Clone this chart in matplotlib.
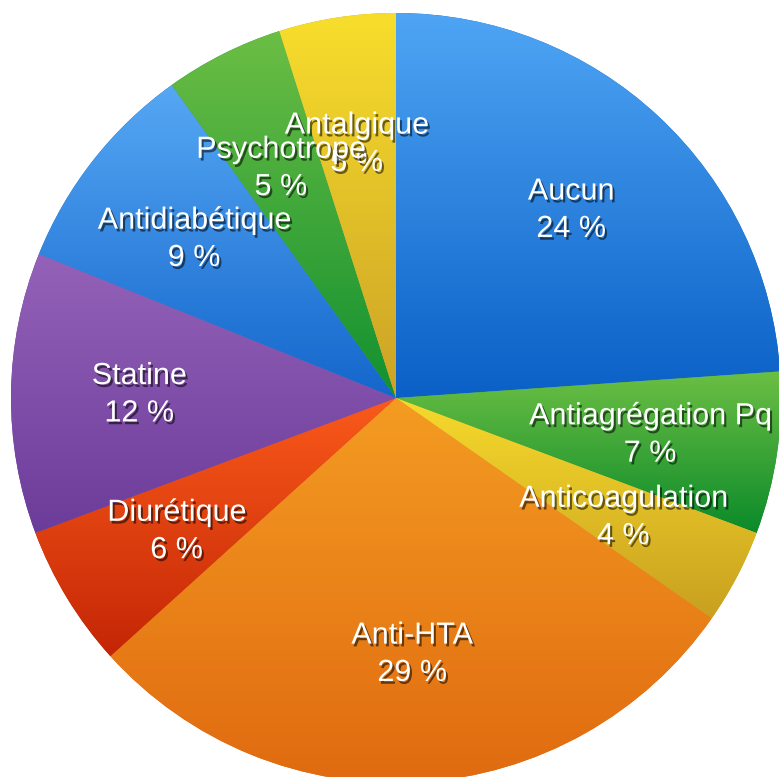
import numpy as np
import matplotlib
matplotlib.use("Agg")
from matplotlib import pyplot as plt
from matplotlib import patheffects as pe
from matplotlib.colors import LinearSegmentedColormap

# slices, clockwise from 12 o'clock
names = ["Aucun", "Antiagrégation Pq", "Anticoagulation", "Anti-HTA", "Diurétique",
         "Statine", "Antidiabétique", "Psychotrope", "Antalgique"]
values = [23.9, 6.8, 4.0, 28.6, 6.0, 11.8, 9.0, 5.0, 4.9]
top_colors = ["#4fa5f4", "#6cbf44", "#f6da2c", "#f49c22", "#fa5a1a",
              "#9462b8", "#56a8f4", "#6cbe44", "#f8de2c"]
bottom_colors = ["#0a60c6", "#0b8a2a", "#c9a020", "#e06a10", "#c42606",
                 "#6c3c9a", "#1466cc", "#129030", "#cca226"]

plt.rcParams['font.family'] = ['Liberation Sans', 'DejaVu Sans']

fig = plt.figure(figsize=(7.79, 7.77), dpi=100)
ax = fig.add_axes([11 / 779, -6 / 777, 770 / 779, 770 / 777])

total = sum(values)
labels = [f"{n}\n{round(v / total * 100)} %" for n, v in zip(names, values)]
wedges, texts = ax.pie(values, labels=labels, startangle=90, counterclock=False,
                       radius=1, labeldistance=0.667,
                       colors=bottom_colors, wedgeprops=dict(linewidth=0))

# vertical gradient inside each slice
for w, c1, c2 in zip(wedges, top_colors, bottom_colors):
    verts = w.get_path().vertices
    y0, y1 = verts[:, 1].min(), verts[:, 1].max()
    x0, x1 = verts[:, 0].min(), verts[:, 0].max()
    cmap = LinearSegmentedColormap.from_list("g", [c2, c1])
    grad = np.linspace(0, 1, 256).reshape(-1, 1)
    im = ax.imshow(grad, cmap=cmap, extent=[x0, x1, y0, y1], origin="lower",
                   aspect="auto", zorder=2, interpolation="bilinear")
    im.set_clip_path(w)

shadow = [pe.SimplePatchShadow(offset=(1.5, -2), shadow_rgbFace="black", alpha=0.55),
          pe.Normal()]
for i, t in enumerate(texts):
    t.set_ha("center")
    t.set_va("center")
    t.set_color("white")
    t.set_fontsize(22)
    t.set_linespacing(1.32)
    t.set_path_effects(shadow)
    t.set_zorder(5 if names[i] == "Psychotrope" else 4)

ax.set_xlim(-1, 1)
ax.set_ylim(-1, 1)
ax.axis("off")
fig.savefig("out.png", dpi=100)
